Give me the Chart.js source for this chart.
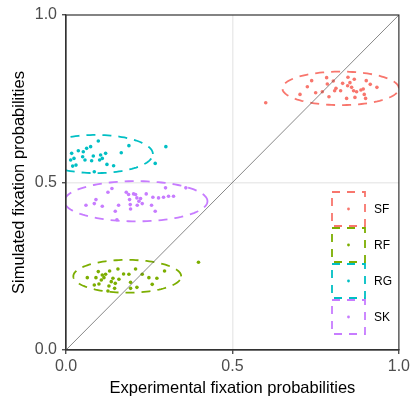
<!DOCTYPE html>
<html>
<head>
<meta charset="utf-8">
<script src="https://cdn.jsdelivr.net/npm/chart.js@4.4.1/dist/chart.umd.min.js"></script>
<style>
  html, body { margin: 0; padding: 0; background: #fff; }
  #wrap { width: 413px; height: 413px; }
</style>
</head>
<body>
<div id="wrap"><canvas id="c"></canvas></div>
<script>
// groups and colours (ggplot default hues)
var groups = ['SF', 'RF', 'RG', 'SK'];
var groupColors = ['#F8766D', '#7CAE00', '#00BFC4', '#C77CFF'];

// experimental (x) vs simulated (y) fixation probabilities
var sfX = [0.600, 0.738, 0.725, 0.703, 0.750, 0.770, 0.783, 0.785, 0.790, 0.803, 0.807, 0.811, 0.825, 0.831, 0.847,
           0.846, 0.853, 0.858, 0.866, 0.864, 0.843, 0.868, 0.873, 0.886, 0.893, 0.896, 0.900, 0.902, 0.914, 0.934];
var sfY = [0.738, 0.804, 0.786, 0.763, 0.768, 0.771, 0.813, 0.794, 0.756, 0.803, 0.774, 0.781, 0.774, 0.796, 0.814,
           0.789, 0.798, 0.784, 0.808, 0.774, 0.751, 0.754, 0.771, 0.776, 0.779, 0.763, 0.751, 0.804, 0.793, 0.784];

var rfX = [0.398, 0.296, 0.273, 0.249, 0.259, 0.229, 0.209, 0.213, 0.194, 0.194, 0.189, 0.173, 0.159, 0.156, 0.148,
           0.146, 0.141, 0.136, 0.131, 0.129, 0.119, 0.114, 0.109, 0.106, 0.097, 0.090, 0.085, 0.099, 0.064, 0.126];
var rfY = [0.262, 0.236, 0.214, 0.216, 0.196, 0.226, 0.242, 0.187, 0.202, 0.184, 0.226, 0.227, 0.211, 0.242, 0.199,
           0.184, 0.214, 0.204, 0.236, 0.191, 0.226, 0.216, 0.224, 0.209, 0.234, 0.216, 0.194, 0.197, 0.216, 0.176];

var rgX = [0.300, 0.268, 0.189, 0.166, 0.143, 0.123, 0.119, 0.109, 0.101, 0.104, 0.097, 0.085, 0.082, 0.077, 0.074,
           0.062, 0.052, 0.050, 0.037, 0.030, 0.020, 0.017, 0.024, 0.014, 0.057];
var rgY = [0.607, 0.557, 0.610, 0.589, 0.550, 0.554, 0.587, 0.572, 0.567, 0.582, 0.624, 0.532, 0.579, 0.565, 0.607,
           0.602, 0.592, 0.577, 0.595, 0.552, 0.549, 0.587, 0.572, 0.567, 0.567];

var skX = [0.060, 0.085, 0.090, 0.109, 0.126, 0.138, 0.148, 0.158, 0.153, 0.181, 0.188, 0.191, 0.193, 0.194, 0.203,
           0.209, 0.213, 0.219, 0.214, 0.224, 0.241, 0.229, 0.257, 0.261, 0.278, 0.293, 0.308, 0.323, 0.299, 0.360, 0.268];
var skY = [0.432, 0.437, 0.449, 0.429, 0.471, 0.482, 0.414, 0.432, 0.389, 0.471, 0.464, 0.449, 0.434, 0.421, 0.466,
           0.464, 0.454, 0.444, 0.432, 0.452, 0.466, 0.437, 0.432, 0.456, 0.454, 0.456, 0.459, 0.459, 0.484, 0.484, 0.414];

// confidence ellipses: centre and semi-axes per group
var ellCX = [0.825, 0.184, 0.090, 0.210];
var ellCY = [0.781, 0.220, 0.585, 0.444];
var ellRX = [0.175, 0.162, 0.171, 0.215];
var ellRY = [0.050, 0.049, 0.057, 0.060];

var axisTicks = [0, 0.5, 1];

var xs = [sfX, rfX, rgX, skX];
var ys = [sfY, rfY, rgY, skY];

function pts(a, b) {
  var out = [];
  for (var i = 0; i < a.length; i++) out.push({x: a[i], y: b[i]});
  return out;
}

function ellipse(k) {
  var out = [];
  var n = 120;
  for (var i = 0; i <= n; i++) {
    var t = 2 * Math.PI * i / n;
    out.push({x: ellCX[k] + ellRX[k] * Math.cos(t), y: ellCY[k] + ellRY[k] * Math.sin(t)});
  }
  return out;
}

var datasets = [];
// diagonal y = x
datasets.push({
  type: 'line', data: [{x: 0, y: 0}, {x: 1, y: 1}],
  borderColor: '#555', borderWidth: 0.7, pointRadius: 0, order: 0
});
for (var k = 0; k < groups.length; k++) {
  datasets.push({
    type: 'scatter', label: groups[k], data: pts(xs[k], ys[k]),
    backgroundColor: groupColors[k], borderWidth: 0, pointRadius: 1.8, order: 2
  });
  datasets.push({
    type: 'line', label: groups[k] + ' ellipse', data: ellipse(k),
    borderColor: groupColors[k], borderWidth: 1.8, borderDash: [9, 7],
    pointRadius: 0, fill: false, tension: 0, order: 1
  });
}

var panelBorder = {
  id: 'panelBorder',
  afterDatasetsDraw: function (chart) {
    var a = chart.chartArea, ctx = chart.ctx;
    ctx.save();
    ctx.strokeStyle = '#333';
    ctx.lineWidth = 1.2;
    ctx.strokeRect(a.left, a.top, a.right - a.left, a.bottom - a.top);
    ctx.restore();
  }
};

var keyLegend = {
  id: 'keyLegend',
  afterDraw: function (chart) {
    var ctx = chart.ctx;
    var left = 331, top = 191, w = 35, h = 36;
    ctx.save();
    for (var k = 0; k < groups.length; k++) {
      var y0 = top + k * h;
      ctx.strokeStyle = groupColors[k];
      ctx.lineWidth = 1.8;
      ctx.setLineDash([8, 7]);
      ctx.strokeRect(left + 1, y0 + 1, w - 2, h - 2);
      ctx.setLineDash([]);
      ctx.fillStyle = groupColors[k];
      ctx.beginPath();
      ctx.arc(left + w / 2, y0 + h / 2, 1.4, 0, 2 * Math.PI);
      ctx.fill();
      ctx.fillStyle = '#000';
      ctx.font = '12px "Liberation Sans", Arial, sans-serif';
      ctx.textBaseline = 'middle';
      ctx.textAlign = 'left';
      ctx.fillText(groups[k], 374, y0 + h / 2 + 0.5);
    }
    ctx.restore();
  }
};

Chart.defaults.font.family = '"Liberation Sans", Arial, sans-serif';

new Chart(document.getElementById('c'), {
  type: 'scatter',
  data: {datasets: datasets},
  options: {
    responsive: true,
    maintainAspectRatio: false,
    animation: false,
    layout: {padding: {left: 10, top: 15, right: 12, bottom: 15}},
    plugins: {legend: {display: false}, tooltip: {enabled: false}},
    scales: {
      x: {
        type: 'linear', min: 0, max: 1,
        afterBuildTicks: function (s) { s.ticks = axisTicks.map(function (v) { return {value: v}; }); },
        afterFit: function (s) { s.height = 48; },
        ticks: {
          callback: function (v) { return v.toFixed(1); },
          color: '#4D4D4D', font: {size: 16}, padding: 3, maxRotation: 0
        },
        grid: {
          color: function (c) { return c.tick && c.tick.value === 0.5 ? '#EBEBEB' : 'rgba(0,0,0,0)'; },
          lineWidth: 1.5, drawTicks: true, tickLength: 4, tickColor: '#333', tickWidth: 1.2
        },
        border: {display: true, color: '#333', width: 1.2},
        title: {
          display: true, text: 'Experimental fixation probabilities',
          color: '#000', font: {size: 16.5}, padding: {top: 2, bottom: 0}
        }
      },
      y: {
        type: 'linear', min: 0, max: 1,
        afterBuildTicks: function (s) { s.ticks = axisTicks.map(function (v) { return {value: v}; }); },
        afterFit: function (s) { s.width = 56; },
        ticks: {
          callback: function (v) { return v.toFixed(1); },
          color: '#4D4D4D', font: {size: 16}, padding: 5
        },
        grid: {
          color: function (c) { return c.tick && c.tick.value === 0.5 ? '#EBEBEB' : 'rgba(0,0,0,0)'; },
          lineWidth: 1.5, drawTicks: true, tickLength: 4, tickColor: '#333', tickWidth: 1.2
        },
        border: {display: true, color: '#333', width: 1.2},
        title: {
          display: true, text: 'Simulated fixation probabilities',
          color: '#000', font: {size: 16.5}, padding: {top: 0, bottom: 2}
        }
      }
    }
  },
  plugins: [panelBorder, keyLegend]
});
</script>
</body>
</html>
